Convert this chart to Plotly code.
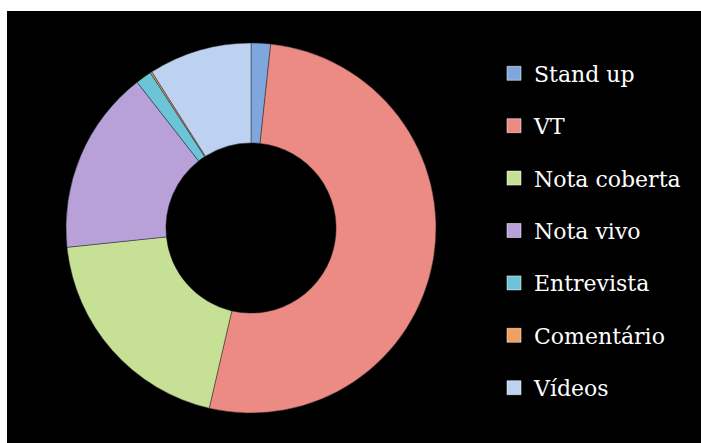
import plotly.graph_objects as go

# Share of each news format in the bulletin (%)
categories = ["Stand up", "VT", "Nota coberta", "Nota vivo", "Entrevista", "Comentário", "Vídeos"]
values = [1.7, 51.9, 19.7, 16.1, 1.4, 0.15, 9.0]
colors = ["#7FA7DD", "#EC8A84", "#C6E096", "#B7A1D8", "#6CC4D9", "#F0A060", "#BCD2F0"]

W, H = 701, 443
cx, cy, r = 251, 228, 185  # donut centre and radius in pixels

fig = go.Figure()

fig.add_trace(go.Pie(
    labels=categories,
    values=values,
    hole=0.46,
    sort=False,
    direction="clockwise",
    rotation=0,
    marker=dict(colors=colors, line=dict(color="rgba(40,40,40,0.6)", width=0.8)),
    textinfo="none",
    hoverinfo="label+percent",
    showlegend=False,
    domain=dict(x=[(cx - r) / W, (cx + r) / W], y=[(H - cy - r) / H, (H - cy + r) / H]),
))

# Legend entries, one group per category so the spacing can be set
for name, col in zip(categories, colors):
    fig.add_trace(go.Scatter(
        x=[None], y=[None], mode="markers", name=name, legendgroup=name,
        marker=dict(symbol="square", size=14, color=col,
                    line=dict(color="rgba(255,255,255,0.5)", width=1)),
        hoverinfo="skip",
    ))

fig.update_layout(
    width=W, height=H,
    margin=dict(l=0, r=0, t=0, b=0),
    paper_bgcolor="black",
    plot_bgcolor="rgba(0,0,0,0)",
    xaxis=dict(visible=False),
    yaxis=dict(visible=False),
    showlegend=True,
    legend=dict(
        x=494 / W, y=1 - 52.5 / H, xanchor="left", yanchor="top",
        font=dict(family="DejaVu Serif", size=22, color="white"),
        bgcolor="rgba(0,0,0,0)",
        tracegroupgap=20.8,
        itemwidth=30,
    ),
    shapes=[
        dict(type="rect", xref="paper", yref="paper", x0=0, x1=1, y0=1 - 11 / H, y1=1,
             fillcolor="white", line=dict(width=0), layer="below"),
        dict(type="rect", xref="paper", yref="paper", x0=0, x1=7 / W, y0=0, y1=1,
             fillcolor="white", line=dict(width=0), layer="below"),
    ],
)

fig.write_html("out.html")
